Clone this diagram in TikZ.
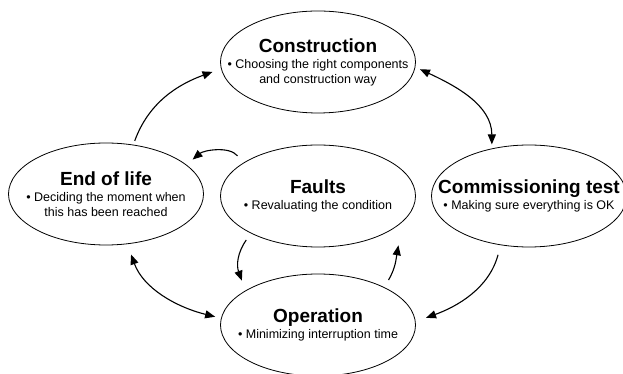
\documentclass[tikz,border=0pt]{standalone}
\usepackage{fontspec}
\setmainfont{Liberation Sans}
\usetikzlibrary{shapes.geometric,arrows.meta}

\tikzset{
  phase/.style={draw,ellipse,line width=0.8pt,minimum width=195pt,minimum height=102pt,inner sep=0pt},
  phasetext/.style={align=center,font=\fontsize{12.5}{15}\selectfont},
  flow/.style={line width=1.1pt,>={Triangle[length=10pt,width=8pt]},->},
}
\newcommand{\phasename}[1]{{\fontsize{19}{21}\selectfont\bfseries #1}\\[1pt]}

\begin{document}
\begin{tikzpicture}[x=1pt,y=1pt]
			\useasboundingbox (0,0) rectangle (623,374);
			\node[phase,label={[phasetext]center:{\phasename{Construction}\textbullet{} Choosing the right components\\and construction way}}] (cons)at(318,312) {};
			\node[phase,label={[phasetext]center:{\phasename{End of life}\textbullet{} Deciding the moment when\\this has been reached}}] (eol)at(106,180) {};
			\node[phase,label={[phasetext]center:{\phasename{Faults}\textbullet{} Revaluating the condition}}] (faults)at(318,178) {};
			\node[phase,label={[phasetext]center:{\phasename{Commissioning test}\textbullet{} Making sure everything is OK}}] (comm)at(529,178) {};
			\node[phase,label={[phasetext]center:{\phasename{Operation}\textbullet{} Minimizing interruption time}}] (oper)at(318,49) {};
			
			\draw[flow,shorten <=4pt,shorten >=9pt] (eol.61) to[out=70,in=200] (cons.184);
			\draw[flow,<->,shorten <=5pt,shorten >=4pt] (cons.-3) to[out=-25,in=90] (comm.128);
			\draw[flow,shorten <=10pt,shorten >=11pt] (comm.240) to[out=-105,in=20] (oper.2);
			\draw[flow,<->,shorten <=11pt,shorten >=6pt] (eol.-67) to[out=-70,in=166] (oper.176);
			\draw[flow,shorten <=9pt,shorten >=8pt] (faults.156) to[out=130,in=40] (eol.20);
			\draw[flow] ([yshift=-9pt]faults.206) to[out=-125,in=110] ([yshift=12pt]oper.157);
			\draw[flow] ([xshift=9pt,yshift=5pt]oper.33) to[out=60,in=-100] ([yshift=-20pt]faults.-20);
\end{tikzpicture}
\end{document}
